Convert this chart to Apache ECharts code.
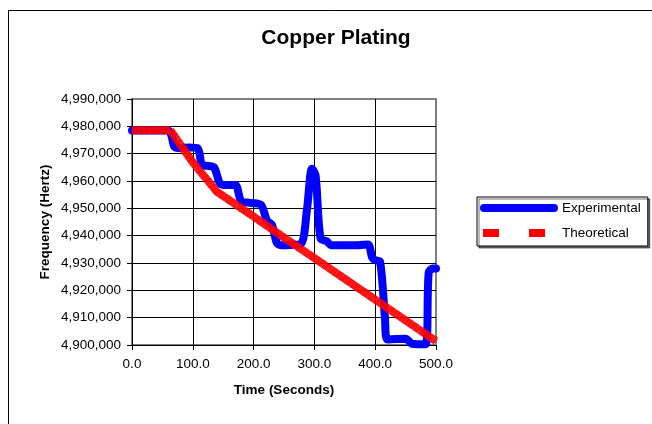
<!DOCTYPE html>
<html>
<head>
<meta charset="utf-8">
<script src="https://cdn.jsdelivr.net/npm/echarts@6/dist/echarts.min.js"></script>
<style>
html,body{margin:0;padding:0;background:#fff;}
#chart{width:652px;height:424px;}
</style>
</head>
<body>
<div id="chart"></div>
<script>
// ---- data ----
const titleText = 'Copper Plating';
const xAxisName = 'Time (Seconds)';
const yAxisName = 'Frequency (Hertz)';
const seriesNames = ['Experimental', 'Theoretical'];

const expTime = [0, 20, 40, 60, 65, 70, 80, 95, 108, 115, 125, 135, 145, 155, 170, 180, 195, 212, 222, 230, 238, 245, 260, 278, 288, 296, 302, 310, 320, 328, 350, 370, 388, 395, 400, 408, 416, 420, 435, 450, 460, 470, 483, 488, 495, 500];
const expFreq = [4978500, 4978500, 4978500, 4978500, 4976500, 4972500, 4972000, 4972300, 4972000, 4966000, 4965500, 4965000, 4959000, 4958500, 4958500, 4952500, 4952000, 4951300, 4945500, 4944000, 4937500, 4936500, 4936600, 4937000, 4950000, 4964500, 4962000, 4939000, 4938000, 4936500, 4936500, 4936500, 4936800, 4932000, 4931000, 4930500, 4910000, 4902000, 4902200, 4902300, 4900500, 4900300, 4900300, 4926500, 4928000, 4928000];

const theoTime = [0, 20, 40, 63, 100, 140, 200, 250, 300, 350, 400, 450, 500];
const theoFreq = [4978600, 4978600, 4978600, 4978600, 4966800, 4956000, 4947000, 4939300, 4931800, 4924200, 4916600, 4909000, 4901400];

const xMin = 0, xMax = 500, xStep = 100;
const yMin = 4900000, yMax = 4990000, yStep = 10000;

const FONT = '"Liberation Sans", Arial, sans-serif';

function pairs(xs, ys) { return xs.map((x, i) => [x, ys[i]]); }
function commas(v) { return String(Math.round(v)).replace(/\B(?=(\d{3})+(?!\d))/g, ','); }

const chart = echarts.init(document.getElementById('chart'), null, { renderer: 'canvas' });
chart.setOption({
  animation: false,
  backgroundColor: '#fff',
  title: {
    text: titleText,
    left: 331,
    top: 23,
    textAlign: 'center',
    textStyle: { fontFamily: FONT, fontSize: 21, fontWeight: 'bold', color: '#000' }
  },
  graphic: [{
    type: 'rect',
    shape: { x: 8.5, y: 10.5, width: 700, height: 500 },
    style: { fill: 'none', stroke: '#000', lineWidth: 1 },
    silent: true, z: -1
  }],
  legend: {
    orient: 'vertical',
    left: 477,
    top: 197,
    padding: [3, 7, 5, 3],
    itemGap: 9,
    itemWidth: 78,
    itemHeight: 8,
    backgroundColor: '#fff',
    borderColor: '#000',
    borderWidth: 1,
    borderRadius: 0,
    shadowColor: 'rgba(0,0,0,0.55)',
    shadowBlur: 0,
    shadowOffsetX: 2,
    shadowOffsetY: 2,
    textStyle: { fontFamily: FONT, fontSize: 13.5, color: '#000', lineHeight: 16, padding: [0, 0, 0, -1] },
    data: [
      { name: seriesNames[0], icon: 'path://M4,0h70a4,4 0 0 1 0,8h-70a4,4 0 0 1 0,-8z', itemStyle: { color: '#0000FF', borderWidth: 0 } },
      { name: seriesNames[1], icon: 'path://M0,0L0,0M78,8L78,8M3,0h16v8h-16zM49,0h16v8h-16z', itemStyle: { color: '#FF0000', borderWidth: 0 } }
    ]
  },
  grid: {
    left: 132, top: 99, right: 216, bottom: 79,
    show: true, borderColor: '#808080', borderWidth: 2, backgroundColor: 'transparent'
  },
  xAxis: {
    type: 'value',
    min: xMin, max: xMax, interval: xStep,
    name: xAxisName,
    nameLocation: 'middle',
    nameGap: 38,
    nameTextStyle: { fontFamily: FONT, fontSize: 13.5, fontWeight: 'bold', color: '#000' },
    axisLine: { show: true, onZero: false, lineStyle: { color: '#000', width: 1 } },
    axisTick: { show: true, inside: false, length: 5, lineStyle: { color: '#000' } },
    axisLabel: { fontFamily: FONT, fontSize: 13.5, color: '#000', margin: 12, formatter: v => v.toFixed(1) },
    splitLine: { show: true, showMinLine: false, showMaxLine: false, lineStyle: { color: '#000', width: 1 } }
  },
  yAxis: {
    type: 'value',
    min: yMin, max: yMax, interval: yStep,
    name: yAxisName,
    nameLocation: 'middle',
    nameGap: 80,
    nameTextStyle: { fontFamily: FONT, fontSize: 13.5, fontWeight: 'bold', color: '#000' },
    axisLine: { show: true, lineStyle: { color: '#000', width: 1 } },
    axisTick: { show: true, inside: false, length: 5, lineStyle: { color: '#000' } },
    axisLabel: { fontFamily: FONT, fontSize: 13.5, color: '#000', margin: 11, formatter: v => commas(v) },
    splitLine: { show: true, showMinLine: false, showMaxLine: false, lineStyle: { color: '#000', width: 1 } }
  },
  series: [
    {
      name: seriesNames[0],
      type: 'line',
      data: pairs(expTime, expFreq),
      showSymbol: false,
      smooth: 0.3,
      clip: false,
      lineStyle: { color: '#0000FF', width: 8, cap: 'round', join: 'round' },
      itemStyle: { color: '#0000FF' },
      z: 2
    },
    {
      name: seriesNames[1],
      type: 'line',
      data: pairs(theoTime, theoFreq),
      showSymbol: false,
      clip: false,
      lineStyle: { color: '#FF0000', width: 8, type: [1.3, 0.12], cap: 'butt' },
      itemStyle: { color: '#FF0000' },
      z: 3
    }
  ]
});
</script>
</body>
</html>
